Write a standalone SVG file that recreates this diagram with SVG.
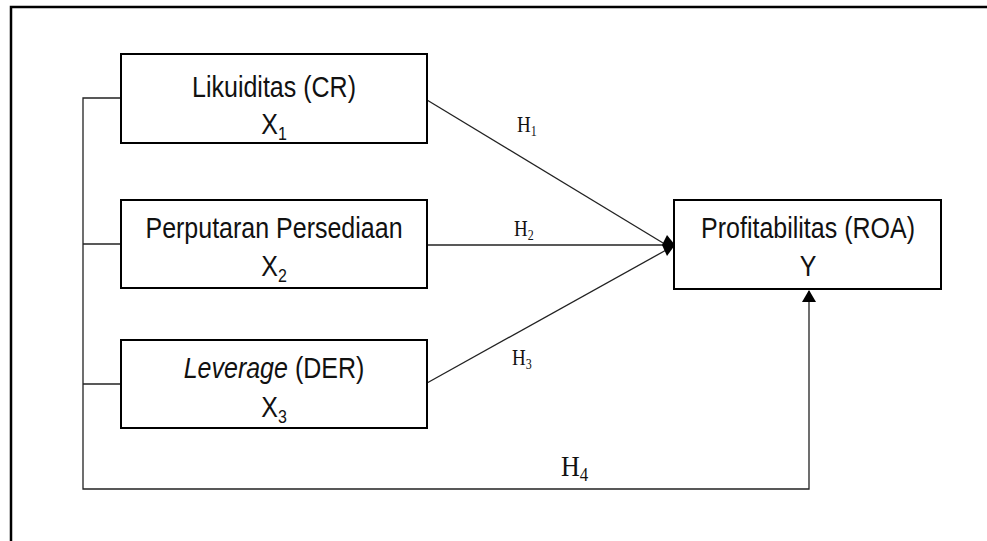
<svg xmlns="http://www.w3.org/2000/svg" width="987" height="541" viewBox="0 0 987 541">
<style>
.box{fill:#fff;stroke:#000;stroke-width:2}
.lbl{font-family:"Liberation Sans",Arial,sans-serif;font-size:25px;fill:#111;text-anchor:middle}
.sub{font-size:16px}
.h{font-family:"Liberation Serif","Times New Roman",serif;font-size:19px;fill:#111}
.hs{font-size:12px}
.ln{stroke:#222;stroke-width:1.3;fill:none}
</style>
<defs>
<marker id="ah" markerWidth="12" markerHeight="14" refX="11" refY="7" orient="auto" markerUnits="userSpaceOnUse">
<path d="M0,0 L12,7 L0,14 Z" fill="#000"/>
</marker>
</defs>
<rect width="987" height="541" fill="#fff"/>
<g id="frame">
<path d="M11,541 L11,7 L987,7" fill="none" stroke="#000" stroke-width="2.5"/>
</g>
<g id="connectors">
<path class="ln" d="M121,98 L83,98 L83,489 L809,489 L809,291" marker-end="url(#ah)"/>
<line class="ln" x1="83" y1="244" x2="121" y2="244"/>
<line class="ln" x1="83" y1="384" x2="121" y2="384"/>
<line class="ln" x1="427" y1="100" x2="668" y2="246"/>
<line class="ln" x1="427" y1="245" x2="668" y2="245"/>
<line class="ln" x1="427" y1="383" x2="668" y2="249"/>
<path d="M675,245 L667,235 L662,245 L667,256 Z" fill="#000"/>
<text class="h" transform="translate(517,132) scale(1,1.2)">H<tspan class="hs" dy="3">1</tspan></text>
<text class="h" transform="translate(514,236) scale(1,1.2)">H<tspan class="hs" dy="3">2</tspan></text>
<text class="h" transform="translate(512,365) scale(1,1.2)">H<tspan class="hs" dy="3">3</tspan></text>
<text class="h" transform="translate(561,476) scale(1,1.15)" style="font-size:26px">H<tspan style="font-size:17px" dy="4">4</tspan></text>
</g>
<g id="x1">
<rect class="box" x="121" y="54" width="306" height="89"/>
<text class="lbl" transform="translate(274,97) scale(1,1.2)">Likuiditas (CR)</text>
<text class="lbl" transform="translate(274,134) scale(1,1.2)">X<tspan class="sub" dy="5">1</tspan></text>
</g>
<g id="x2">
<rect class="box" x="121" y="200" width="306" height="88"/>
<text class="lbl" transform="translate(274,238) scale(1,1.2)">Perputaran Persediaan</text>
<text class="lbl" transform="translate(274,276) scale(1,1.2)">X<tspan class="sub" dy="5">2</tspan></text>
</g>
<g id="x3">
<rect class="box" x="121" y="340" width="306" height="88"/>
<text class="lbl" transform="translate(274,378) scale(1,1.2)"><tspan font-style="italic">Leverage</tspan> (DER)</text>
<text class="lbl" transform="translate(274,417) scale(1,1.2)">X<tspan class="sub" dy="5">3</tspan></text>
</g>
<g id="y">
<rect class="box" x="674" y="200" width="267" height="89"/>
<text class="lbl" transform="translate(808,238) scale(1,1.2)">Profitabilitas (ROA)</text>
<text class="lbl" transform="translate(808,276) scale(1,1.2)">Y</text>
</g>
</svg>
